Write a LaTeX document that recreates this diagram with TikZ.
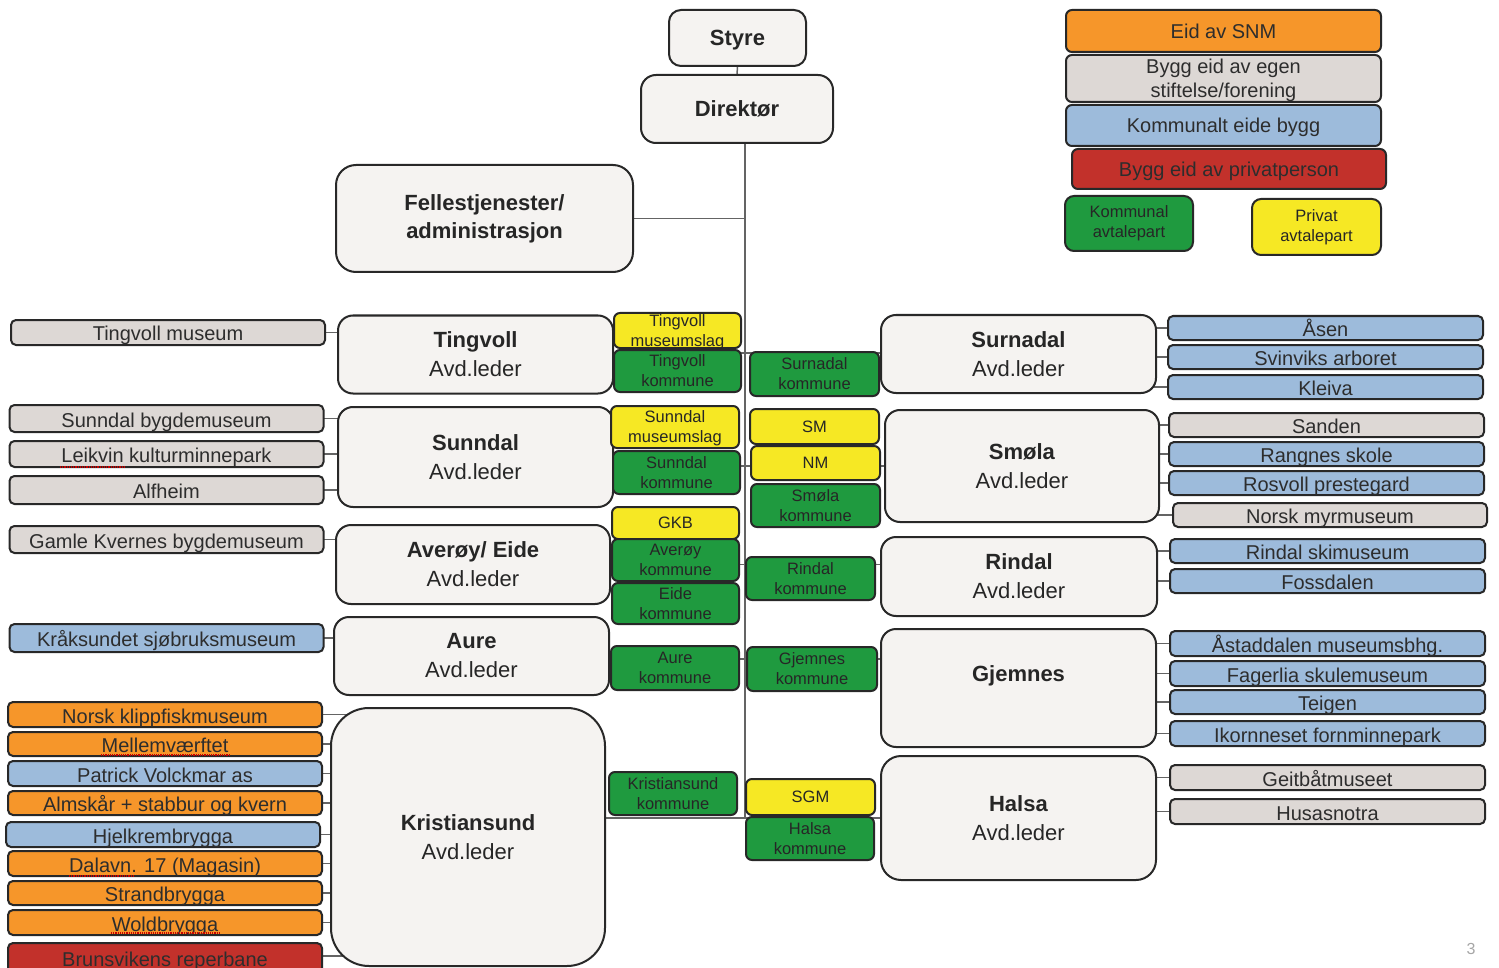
\documentclass[tikz,border=0pt]{standalone}
\usepackage{fontspec}
\setmainfont{Liberation Sans}
\usetikzlibrary{calc,backgrounds}
\definecolor{orangeC}{RGB}{246,150,42}
\definecolor{greyC}{RGB}{221,216,213}
\definecolor{blueC}{RGB}{157,187,219}
\definecolor{redC}{RGB}{194,49,43}
\definecolor{greenC}{RGB}{31,154,63}
\definecolor{yellowC}{RGB}{246,232,36}
\definecolor{deptC}{RGB}{245,243,241}
\definecolor{borderC}{RGB}{40,40,40}
\definecolor{lineC}{RGB}{100,100,100}
\definecolor{txtC}{RGB}{45,45,45}
\tikzset{
  box/.style={draw=borderC, line width=2pt, inner sep=0pt, outer sep=0pt, align=center, text=txtC},
  dept/.style={box, fill=deptC, rounded corners=15pt, text=black!85, font=\fontsize{22}{29}\selectfont},
  item/.style={box, rounded corners=5pt, minimum width=314pt, minimum height=25pt, text height=17pt, text depth=0pt, font=\fontsize{20}{22}\selectfont},
  small/.style={box, rounded corners=6pt, minimum width=128pt, font=\fontsize{16.5}{20}\selectfont},
  gr/.style={small, fill=greenC, text=black!85},
  ye/.style={small, fill=yellowC, text=black!85},
  legend/.style={box, rounded corners=6pt, minimum width=315pt, font=\fontsize{20}{24}\selectfont},
  conn/.style={draw=lineC, line width=1.5pt},
  spell/.style={draw=red!80!black, line width=1.2pt, densely dotted}
}
\begin{document}
\begin{tikzpicture}[x=1pt,y=-1pt]
\useasboundingbox (0,0) rectangle (1499,968);

% top
\node[dept, minimum width=137pt, minimum height=56pt, rounded corners=12pt, text depth=0pt, font=\fontsize{22}{28}\bfseries] (styre) at (737.5,38) {Styre};
\node[dept, minimum width=192pt, minimum height=68pt, text depth=0pt, font=\fontsize{22}{28}\bfseries] (dir) at (737,109) {Direktør};
\node[dept, minimum width=297pt, minimum height=107pt, rounded corners=20pt, font=\fontsize{22}{28}\bfseries] (fell) at (484.5,218.5) {Fellestjenester/\\administrasjon};

% legend
\node[legend, fill=orangeC, minimum height=42pt, text height=16pt, text depth=1pt] (lsnm) at (1223.5,31) {Eid av SNM};
\node[legend, fill=greyC, minimum height=47pt, text depth=0pt] (lstift) at (1223.5,78.5) {Bygg eid av egen\\stiftelse/forening};
\node[legend, fill=blueC, minimum height=41pt, text height=16pt, text depth=1pt] (lkom) at (1223.5,125.5) {Kommunalt eide bygg};
\node[legend, fill=redC, minimum height=40pt, minimum width=314pt, text height=16pt, text depth=1pt] (lpriv) at (1229,169) {Bygg eid av privatperson};
\node[gr, minimum width=128pt, minimum height=55pt, rounded corners=9pt] (lkavt) at (1129,223.5) {Kommunal\\avtalepart};
\node[ye, minimum width=129pt, minimum height=56pt, rounded corners=9pt] (lpavt) at (1316.5,227) {Privat\\avtalepart};

% departments left
\node[dept, minimum width=275pt, minimum height=78pt] (ting) at (475.5,354.5) {\textbf{Tingvoll}\\Avd.leder};
\node[dept, minimum width=275pt, minimum height=100pt] (sunn) at (475.5,457) {\textbf{Sunndal}\\Avd.leder};
\node[dept, minimum width=274pt, minimum height=79pt] (aver) at (473,564.5) {\textbf{Averøy/ Eide}\\Avd.leder};
\node[dept, minimum width=275pt, minimum height=78pt] (aure) at (471.5,656) {\textbf{Aure}\\Avd.leder};
\node[dept, minimum width=274pt, minimum height=258pt, rounded corners=38pt] (kris) at (468,837) {\textbf{Kristiansund}\\Avd.leder};

% departments right
\node[dept, minimum width=275pt, minimum height=78pt] (surn) at (1018.5,354) {\textbf{Surnadal}\\Avd.leder};
\node[dept, minimum width=274pt, minimum height=112pt] (smol) at (1022,466) {\textbf{Smøla}\\Avd.leder};
\node[dept, minimum width=276pt, minimum height=79pt] (rind) at (1019,576.5) {\textbf{Rindal}\\Avd.leder};
\node[dept, minimum width=275pt, minimum height=118pt] (gjem) at (1018.5,688) {\textbf{Gjemnes}\\\mbox{}};
\node[dept, minimum width=275pt, minimum height=124pt, rounded corners=20pt] (hals) at (1018.5,818) {\textbf{Halsa}\\Avd.leder};

% middle-left small boxes
\node[ye, minimum width=127pt, minimum height=35pt, text depth=0pt] (tml) at (677.5,330.5) {Tingvoll\\museumslag};
\node[gr, minimum width=127pt, minimum height=42pt] (tk) at (677.5,371) {Tingvoll\\kommune};
\node[ye, minimum height=42pt, text depth=0pt] (sml) at (675,427) {Sunndal\\museumslag};
\node[gr, minimum width=127pt, minimum height=43pt] (sk) at (676.5,472.5) {Sunndal\\kommune};
\node[ye, minimum width=127pt, minimum height=32pt] (gkb) at (675.5,523) {GKB};
\node[gr, minimum width=127pt, minimum height=42pt] (ak) at (675.5,560) {Averøy\\kommune};
\node[gr, minimum width=127pt, minimum height=41pt] (ek) at (675.5,603.5) {Eide\\kommune};
\node[gr, minimum height=44pt] (auk) at (675,668) {Aure\\kommune};
\node[gr, minimum height=43pt] (krk) at (673,793.5) {Kristiansund\\kommune};

% middle-right small boxes
\node[gr, minimum width=129pt, minimum height=44pt] (suk) at (814.5,374) {Surnadal\\kommune};
\node[ye, minimum width=129pt, minimum height=35pt] (sm) at (814.5,426.5) {SM};
\node[ye, minimum width=129pt, minimum height=34pt] (nm) at (815.5,463) {NM};
\node[gr, minimum width=129pt, minimum height=43pt] (smk) at (815.5,505.5) {Smøla\\kommune};
\node[gr, minimum width=129pt, minimum height=43pt] (rik) at (810.5,578.5) {Rindal\\kommune};
\node[gr, minimum width=130pt, minimum height=44pt] (gjk) at (812,669) {Gjemnes\\kommune};
\node[ye, minimum width=129pt, minimum height=36pt] (sgm) at (810.5,797) {SGM};
\node[gr, minimum height=43pt] (hak) at (810,838.5) {Halsa\\kommune};

% left items
\node[item, fill=greyC] (tm) at (168,332.5) {Tingvoll museum};
\node[item, fill=greyC, minimum height=27pt] (sb) at (166.5,418.5) {Sunndal bygdemuseum};
\node[item, fill=greyC, minimum height=26pt] (lk) at (166.5,454) {Leikvin kulturminnepark};
\node[item, fill=greyC, minimum height=28pt] (al) at (166.5,490) {Alfheim};
\node[item, fill=greyC, minimum height=27pt] (gk) at (166.5,539.5) {Gamle Kvernes bygdemuseum};
\node[item, fill=blueC, minimum height=28pt] (ks) at (166.5,638) {Kråksundet sjøbruksmuseum};
\node[item, fill=orangeC] (nk) at (165,714.5) {Norsk klippfiskmuseum};
\node[item, fill=orangeC, minimum height=24pt] (mv) at (165,744) {Mellemværftet};
\node[item, fill=blueC] (pv) at (165,773.5) {Patrick Volckmar as};
\node[item, fill=orangeC, minimum height=24pt] (am) at (165,803) {Almskår + stabbur og kvern};
\node[item, fill=blueC] (hb) at (163,834.5) {Hjelkrembrygga};
\node[item, fill=orangeC] (da) at (165,863.5) {Dalavn. 17 (Magasin)};
\node[item, fill=orangeC, minimum height=24pt] (sbr) at (165,893) {Strandbrygga};
\node[item, fill=orangeC] (wb) at (165,922.5) {Woldbrygga};
\node[item, fill=redC, minimum height=30pt] (br) at (165,958) {Brunsvikens reperbane};

% right items
\node[item, fill=blueC, minimum width=315pt, minimum height=24pt] (as) at (1325.5,328) {Åsen};
\node[item, fill=blueC, minimum width=315pt, minimum height=24pt] (sv) at (1325.5,357) {Svinviks arboret};
\node[item, fill=blueC, minimum width=315pt, minimum height=24pt] (kl) at (1325.5,387) {Kleiva};
\node[item, fill=greyC, minimum width=315pt, minimum height=24pt] (sa) at (1326.5,425) {Sanden};
\node[item, fill=blueC, minimum width=315pt, minimum height=24pt] (ra) at (1326.5,454) {Rangnes skole};
\node[item, fill=blueC, minimum width=315pt, minimum height=24pt] (ro) at (1326.5,483) {Rosvoll prestegard};
\node[item, fill=greyC, minimum width=314pt, minimum height=24pt] (nmy) at (1330,515) {Norsk myrmuseum};
\node[item, fill=blueC, minimum width=315pt, minimum height=24pt] (rs) at (1327.5,551) {Rindal skimuseum};
\node[item, fill=blueC, minimum width=315pt, minimum height=24pt] (fo) at (1327.5,581) {Fossdalen};
\node[item, fill=blueC, minimum width=315pt] (ast) at (1327.5,643.5) {Åstaddalen museumsbhg.};
\node[item, fill=blueC, minimum width=315pt] (fa) at (1327.5,673.5) {Fagerlia skulemuseum};
\node[item, fill=blueC, minimum width=315pt, minimum height=24pt] (te) at (1327.5,702) {Teigen};
\node[item, fill=blueC, minimum width=315pt] (ik) at (1327.5,733.5) {Ikornneset fornminnepark};
\node[item, fill=greyC, minimum width=315pt] (ge) at (1327.5,777.5) {Geitbåtmuseet};
\node[item, fill=greyC, minimum width=315pt] (hu) at (1327.5,811.5) {Husasnotra};

% page number
\node[text=black!35, font=\fontsize{16}{18}\selectfont] (pg) at (1471,949) {3};

% spell-check marks
\draw[spell] (60,467) -- (126,467);
\draw[spell] (101,755) -- (229,755);
\draw[spell] (69,876) -- (134,876);
\draw[spell] (111,933) -- (219,933);

% connectors (behind the boxes)
\coordinate (tt) at (745,143);
\coordinate (tb) at (745,819);
\begin{scope}[on background layer]
\fill[white] (0,0) rectangle (1499,968);
\draw[conn] (styre.south) -- (dir.north);
\draw[conn] (tt) -- (tb);
\draw[conn] (fell.east) -- (fell.east -| tt);
\draw[conn] (ting.east |- 0,353) -- (surn.west |- 0,353);
\draw[conn] (sunn.east |- smol.west) -- (smol.west);
\draw[conn] (aver.east) -- (aver.east -| rind.west);
\draw[conn] (aure.east |- 0,659) -- (gjem.west |- 0,659);
\draw[conn] (hals.west -| kris.east) -- (hals.west);
\foreach \n in {tm} \draw[conn] (\n.east) -- (\n.east -| ting.center);
\foreach \n in {sb,lk,al} \draw[conn] (\n.east) -- (\n.east -| sunn.center);
\foreach \n in {gk} \draw[conn] (\n.east) -- (\n.east -| aver.center);
\foreach \n in {ks} \draw[conn] (\n.east) -- (\n.east -| aure.center);
\foreach \n in {nk,mv,pv,am,hb,da,sbr,wb} \draw[conn] (\n.east) -- (\n.east -| kris.center);
\draw[conn] ($(br.east)+(0,-2)$) -- ($(br.east -| kris.center)+(0,-2)$);
\foreach \n in {as,sv,kl} \draw[conn] (\n.west) -- (\n.west -| surn.center);
\foreach \n in {sa,ra,ro,nmy} \draw[conn] (\n.west) -- (\n.west -| smol.center);
\foreach \n in {rs,fo} \draw[conn] (\n.west) -- (\n.west -| rind.center);
\foreach \n in {ast,fa,te,ik} \draw[conn] (\n.west) -- (\n.west -| gjem.center);
\foreach \n in {ge,hu} \draw[conn] (\n.west) -- (\n.west -| hals.center);
\end{scope}
\end{tikzpicture}
\end{document}
